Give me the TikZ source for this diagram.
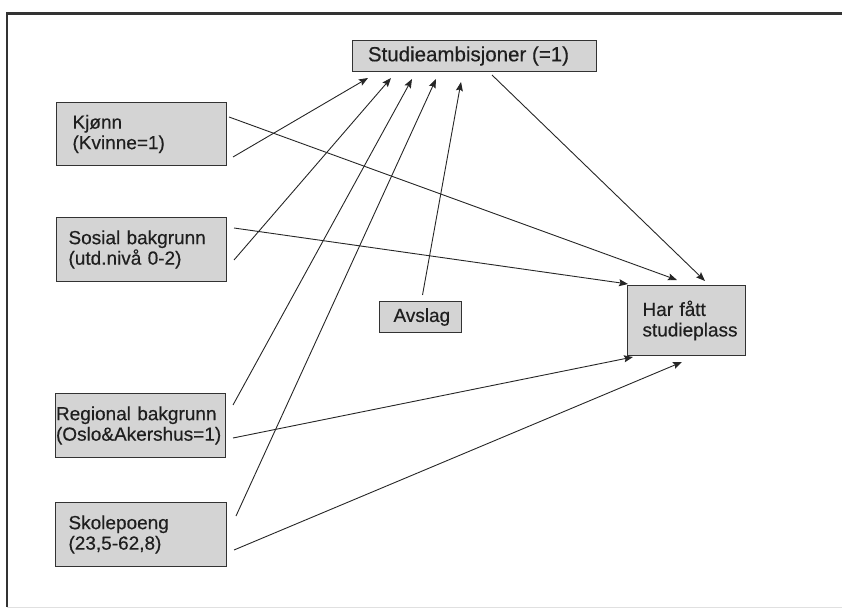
\documentclass[tikz,border=0pt]{standalone}
\usepackage{fontspec}
\setmainfont{Liberation Sans}[FakeBold=0.4]
\usetikzlibrary{arrows.meta,calc}
\begin{document}
\begin{tikzpicture}[x=1pt,y=-1pt,
  varbox/.style={draw=black!80, fill=black!17, line width=1pt, anchor=north west,
    font=\fontsize{19}{20.5}\selectfont, text=black!88, align=left, inner ysep=0pt},
  conn/.style={draw=black!85, line width=0.9pt, -{Stealth[length=9pt,width=7pt,inset=1.5pt]}}
]
\useasboundingbox (0,0) rectangle (842,609);
% frame
\draw[line width=3pt, black!80] (6,14) -- (842,14);
\draw[line width=2pt, black!80] (7,14) -- (7,607);
\draw[line width=1pt, black!12] (7,607) -- (842,607);

\node[varbox, inner xsep=0pt, minimum width=244pt, minimum height=31pt, align=center, font=\fontsize{20.5}{22}\selectfont] (stud) at (352,40) {Studieambisjoner (=1)\hspace*{12pt}};
\node[varbox, inner xsep=16pt, text width=138pt, minimum height=63pt] (kj) at (56,102) {Kjønn\\(Kvinne=1)};
\node[varbox, inner xsep=12pt, text width=146pt, minimum height=64pt] (so) at (56,217) {Sosial bakgrunn\\(utd.nivå 0-2)};
\node[varbox, inner xsep=0.5pt, text width=169pt, minimum height=64pt] (re) at (55,393) {Regional bakgrunn\\(Oslo\&Akershus=1)};
\node[varbox, inner xsep=13pt, text width=145pt, minimum height=64pt] (sk) at (55,502) {Skolepoeng\\(23,5-62,8)};
\node[varbox, inner xsep=14pt, text width=54pt, minimum height=31pt] (av) at (379,301) {Avslag};
\node[varbox, inner xsep=15pt, text width=88pt, minimum height=70pt] (har) at (627,285) {Har fått\\studieplass};

% to Studieambisjoner
\draw[conn] ($(kj.south east)+(6,-9)$) -- ($(stud.south west)+(16,6)$);
\draw[conn] ($(so.south east)+(7,-22)$) -- ($(stud.south west)+(39,6)$);
\draw[conn] ($(re.north east)+(7,12)$) -- ($(stud.south west)+(60,7)$);
\draw[conn] ($(sk.north east)+(9,14)$) -- ($(stud.south west)+(84,7)$);
\draw[conn] ($(av.north)+(2,-6)$) -- ($(stud.south west)+(109,10)$);
% to Har fatt
\draw[conn] ($(kj.north east)+(2,15)$) -- ($(har.north west)+(50,-5)$);
\draw[conn] ($(so.north east)+(7,11)$) -- ($(har.north west)+(1,-1)$);
\draw[conn] ($(re.south east)+(7,-20)$) -- ($(har.south west)+(6,1)$);
\draw[conn] ($(sk.south east)+(7,-17)$) -- ($(har.south west)+(55,6)$);
\draw[conn] ($(stud.south west)+(140,3)$) -- ($(har.north west)+(78,-4)$);
\end{tikzpicture}
\end{document}
